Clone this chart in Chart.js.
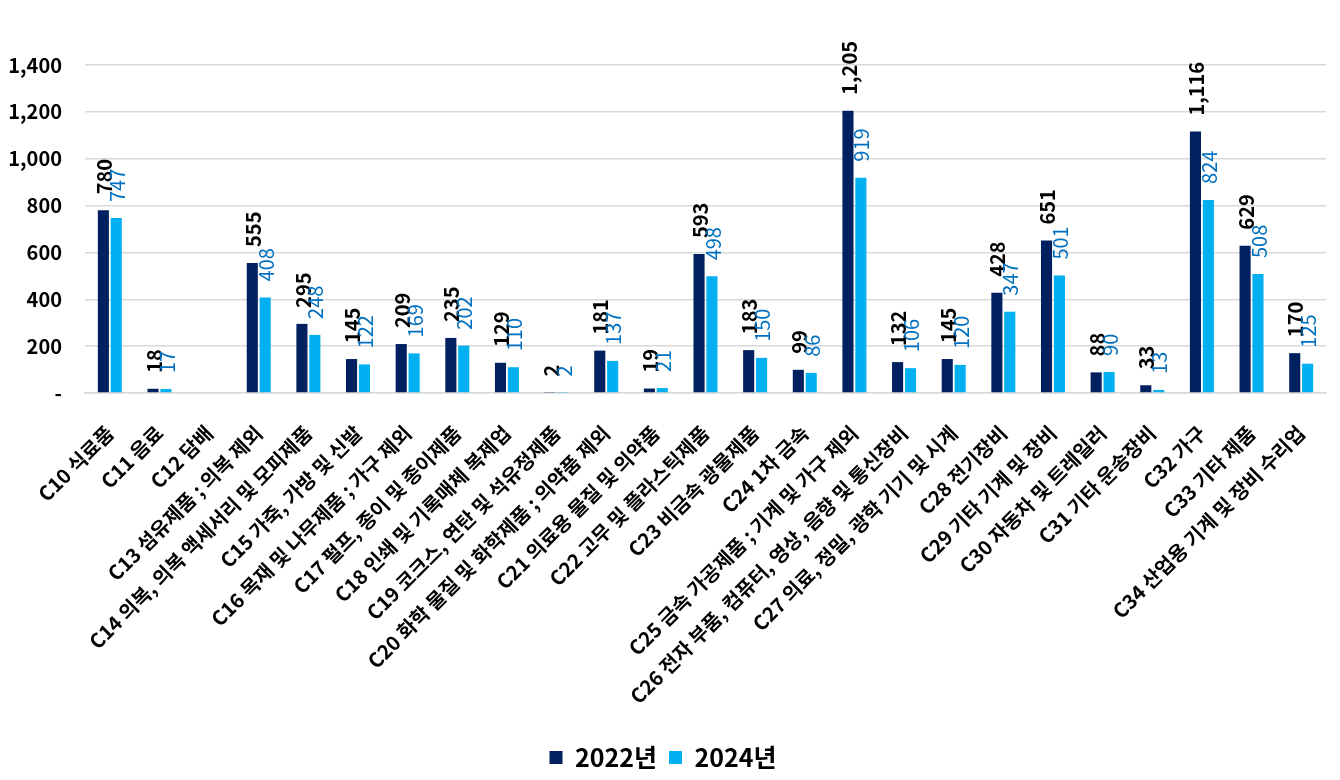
<!DOCTYPE html>
<html>
<head>
<meta charset="utf-8">
<script src="https://cdn.jsdelivr.net/npm/chart.js@4/dist/chart.umd.min.js"></script>
<style>
html,body{margin:0;padding:0;background:#fff;}
#wrap{width:1340px;height:780px;}
</style>
</head>
<body>
<div id="wrap"><canvas id="c"></canvas></div>
<script>
const categories = [
  "C10 식료품","C11 음료","C12 담배","C13 섬유제품 ; 의복 제외","C14 의복, 의복 액세서리 및 모피제품",
  "C15 가죽, 가방 및 신발","C16 목재 및 나무제품 ; 가구 제외","C17 펄프, 종이 및 종이제품","C18 인쇄 및 기록매체 복제업",
  "C19 코크스, 연탄 및 석유정제품","C20 화학 물질 및 화학제품 ; 의약품 제외","C21 의료용 물질 및 의약품",
  "C22 고무 및 플라스틱제품","C23 비금속 광물제품","C24 1차 금속","C25 금속 가공제품 ; 기계 및 가구 제외",
  "C26 전자 부품, 컴퓨터, 영상, 음향 및 통신장비","C27 의료, 정밀, 광학 기기 및 시계","C28 전기장비",
  "C29 기타 기계 및 장비","C30 자동차 및 트레일러","C31 기타 운송장비","C32 가구","C33 기타 제품",
  "C34 산업용 기계 및 장비 수리업"
];
const values2022 = [780,18,null,555,295,145,209,235,129,2,181,19,593,183,99,1205,132,145,428,651,88,33,1116,629,170];
const values2024 = [747,17,null,408,248,122,169,202,110,2,137,21,498,150,86,919,106,120,347,501,90,13,824,508,125];
const seriesNames = ["2022년","2024년"];
const yTicks = [0,200,400,600,800,1000,1200,1400];

const FONT = "'Noto Sans CJK KR','Noto Sans',sans-serif";
const fmt = v => v === 0 ? "-" : v.toLocaleString("en-US");

const labelPlugin = {
  id: 'vlabels',
  afterDatasetsDraw(chart) {
    const ctx = chart.ctx;
    chart.data.datasets.forEach((ds, di) => {
      const meta = chart.getDatasetMeta(di);
      meta.data.forEach((bar, i) => {
        const v = ds.data[i];
        if (v === null || v === undefined) return;
        ctx.save();
        ctx.translate(bar.x + 1, bar.y - 16);
        ctx.rotate(-Math.PI / 2);
        ctx.textAlign = 'left';
        ctx.textBaseline = 'middle';
        ctx.font = (di === 0 ? 'bold ' : '') + '20px ' + FONT;
        ctx.fillStyle = di === 0 ? '#000000' : '#0070C0';
        ctx.fillText(fmt(v), 0, 0);
        ctx.restore();
      });
    });
  }
};

new Chart(document.getElementById('c'), {
  type: 'bar',
  data: {
    labels: categories,
    datasets: [
      { label: seriesNames[0], data: values2022, backgroundColor: '#002060', categoryPercentage: 0.52, barPercentage: 0.86 },
      { label: seriesNames[1], data: values2024, backgroundColor: '#00B0F0', categoryPercentage: 0.52, barPercentage: 0.86 }
    ]
  },
  options: {
    responsive: true,
    maintainAspectRatio: false,
    animation: false,
    layout: { padding: { top: 65, right: 14, left: 0, bottom: 0 } },
    plugins: {
      legend: {
        position: 'bottom',
        labels: {
          font: { family: FONT, size: 25, weight: 'bold' },
          color: '#000',
          boxWidth: 13, boxHeight: 13, padding: 12
        }
      },
      tooltip: { enabled: false }
    },
    scales: {
      x: {
        grid: { display: false },
        border: { display: true, color: '#d9d9d9', width: 1.5 },
        afterFit: s => { s.height = 340; },
        ticks: {
          autoSkip: false, maxRotation: 45, minRotation: 45,
          font: { family: FONT, size: 20, weight: 'bold' }, color: '#000', padding: 20
        }
      },
      y: {
        min: 0, max: 1400,
        afterBuildTicks: axis => { axis.ticks = yTicks.map(v => ({ value: v })); },
        afterFit: s => { s.width = 85; },
        grid: { color: '#d9d9d9', drawTicks: false, lineWidth: 1.5 },
        border: { display: false },
        ticks: {
          font: { family: FONT, size: 20, weight: 'bold' }, color: '#000', padding: 23,
          callback: v => fmt(v)
        }
      }
    }
  },
  plugins: [labelPlugin]
});
</script>
</body>
</html>
